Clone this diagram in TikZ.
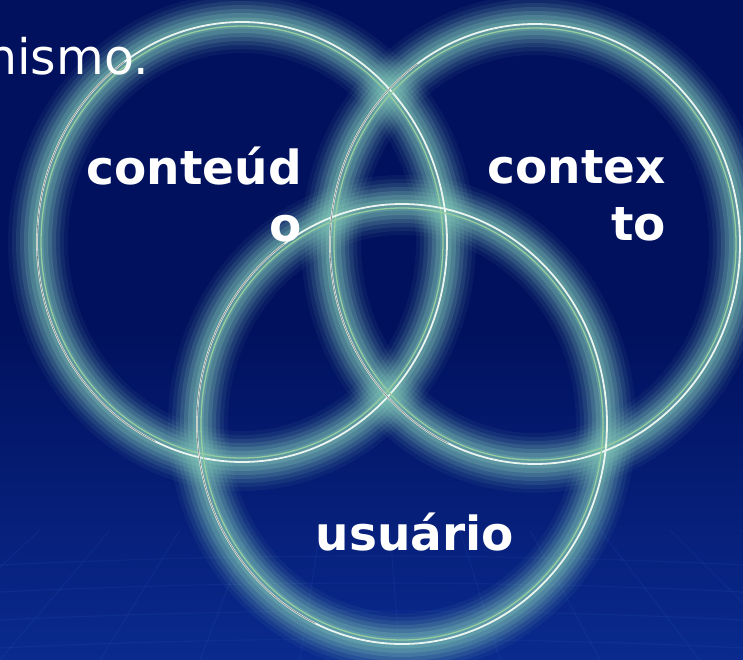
\documentclass[tikz,border=0pt]{standalone}
\usepackage{fontspec}
\setmainfont{DejaVu Sans}
\definecolor{bgtop}{RGB}{1,17,94}
\definecolor{bgbot}{RGB}{10,42,142}
\definecolor{glowc}{RGB}{128,198,182}
\definecolor{ringw}{RGB}{235,245,240}
\definecolor{ringg}{RGB}{150,205,160}
\definecolor{gridc}{RGB}{70,120,225}
\tikzset{
  lbl/.style={text=white, inner sep=0pt, font=\bfseries\fontsize{47}{57}\selectfont},
  ringwhite/.style={draw=ringw, line width=1.8pt},
  ringgreen/.style={draw=ringg, line width=1.3pt},
  ringdark/.style={draw=black!80, line width=0.7pt, opacity=0.55},
}
\begin{document}
\begin{tikzpicture}[x=1pt,y=-1pt]
\useasboundingbox (0,0) rectangle (743,660);
\shade[top color=bgtop, bottom color=bgbot, middle color=bgtop] (0,0) rectangle (743,660);
% faint grid at bottom
\begin{scope}[draw=gridc, opacity=0.09, line width=1.2pt]
  \foreach \yy in {565,592,620,648} {
    \draw (0,\yy) .. controls (250,\yy-12) and (500,\yy-12) .. (743,\yy);
  }
  \foreach \xx in {-200,-100,0,100,200,300,400,500,600,700,800,900} {
    \draw (\xx*0.7+110,530) -- (\xx,660);
  }
\end{scope}
% centres
\coordinate (cA) at (242,242);
\coordinate (cB) at (535,244);
\coordinate (cC) at (402,424);
% glows
\foreach \w/\o in {60/0.06, 52/0.09, 44/0.12, 36/0.16, 28/0.20, 20/0.25, 11/0.30} {
  \foreach \c in {cA,cB,cC} {
    \draw[glowc, line width=\w pt, opacity=\o] (\c) ellipse [x radius=204pt, y radius=219pt];
  }
}
% thin lines
\foreach \c in {cA,cB,cC} {
  \draw[ringgreen] (\c) ellipse [x radius=201pt, y radius=216pt];
  \draw[ringwhite] (\c) ellipse [x radius=205pt, y radius=220pt];
}
% dark edge on the left sides
\foreach \c in {cA,cB,cC} {
  \draw[ringdark] (\c) ++({205*cos(125)},{-220*sin(125)}) arc [start angle=125, end angle=245, x radius=205pt, y radius=220pt];
}
% texts
\node[text=white, inner sep=0pt, anchor=base west, font=\fontsize{49}{58}\selectfont] (nismo) at (-14,75) {nismo.};
\node[lbl, align=right, anchor=north east] (conteudo) at (302,147) {conteúd\\o};
\node[lbl, align=right, anchor=north east] (contexto) at (666,150) {contex\\to};
\node[lbl, anchor=base] (usuario) at (415,550) {usuário};
\end{tikzpicture}
\end{document}
